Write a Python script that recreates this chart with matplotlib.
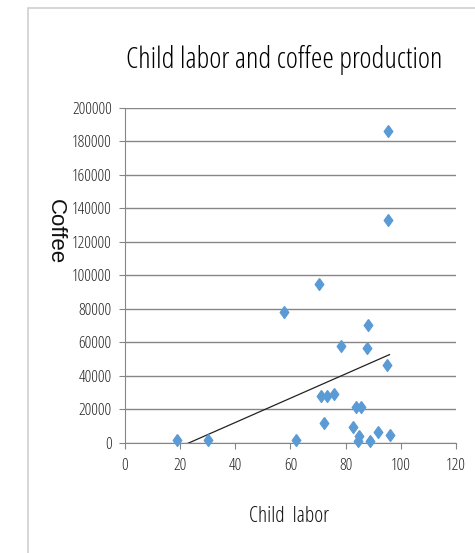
import numpy as np
import matplotlib.pyplot as plt
from matplotlib.patches import Rectangle

child_labor = [19.0, 30.2, 57.8, 62.0, 70.5, 71.1, 73.4, 75.8, 72.3, 78.4, 82.8, 83.8,
               85.6, 84.9, 84.6, 88.2, 87.6, 88.9, 91.8, 95.0, 95.9, 95.2, 95.5]
coffee = [1500, 1500, 78400, 1500, 95000, 28200, 28200, 29400, 12100, 58100, 9300, 21500,
          21500, 3900, 1400, 70400, 56900, 1400, 6600, 46600, 4800, 186000, 133000]
xticks = [0, 20, 40, 60, 80, 100, 120]
yticks = list(range(0, 200001, 20000))

narrow = dict(family=['Open Sans', 'DejaVu Sans'], stretch='condensed', weight='medium')
grey = '#868686'
blue = '#5B9BD5'

fig = plt.figure(figsize=(4.75, 5.53), dpi=100)
fig.patches.append(Rectangle((28 / 475, -0.1), 1.2, 1 - 8 / 553 + 0.1, transform=fig.transFigure,
                             fill=False, edgecolor='#d0d0d0', lw=1.2))

ax = fig.add_axes([0.263, 0.199, 0.697, 0.606])

# thin diamond marker
diamond = [(0, 1), (0.72, 0), (0, -1), (-0.72, 0), (0, 1)]
ax.plot(child_labor, coffee, ls='none', marker=diamond, ms=8.5, color=blue,
        mec=blue, clip_on=False, zorder=3)

# linear trendline, clipped by the axes at y=0
slope, intercept = np.polyfit(child_labor, coffee, 1)
tx = np.array([min(child_labor), max(child_labor)])
ax.plot(tx, slope * tx + intercept, color='#222222', lw=0.9, zorder=2)

ax.set_xlim(0, 120)
ax.set_ylim(0, 200000)
ax.set_xticks(xticks)
ax.set_yticks(yticks)
ax.yaxis.grid(True, color=grey, lw=1)
ax.set_axisbelow(True)
for s in ['top', 'right']:
    ax.spines[s].set_visible(False)
for s in ['left', 'bottom']:
    ax.spines[s].set_color(grey)
ax.tick_params(axis='both', colors=grey, length=4.5, width=0.8, labelcolor='#222222')
ax.tick_params(axis='x', pad=6)
ax.tick_params(axis='y', pad=5)
for lab in ax.get_xticklabels() + ax.get_yticklabels():
    lab.set(fontsize=12, **narrow)

fig.text(284 / 475, 1 - 60 / 553, 'Child labor and coffee production', ha='center', va='center',
         fontsize=21, color='black', **narrow)
fig.text(289 / 475, 1 - 517 / 553, 'Child  labor', ha='center', va='center',
         fontsize=15.5, color='#111111', **narrow)
fig.text(55 / 475, 1 - 232 / 553, 'Coffee', ha='center', va='center', rotation=270,
         family=['Liberation Sans', 'DejaVu Sans'], fontsize=16, color='#111111')

fig.savefig('out.png', dpi=100)
